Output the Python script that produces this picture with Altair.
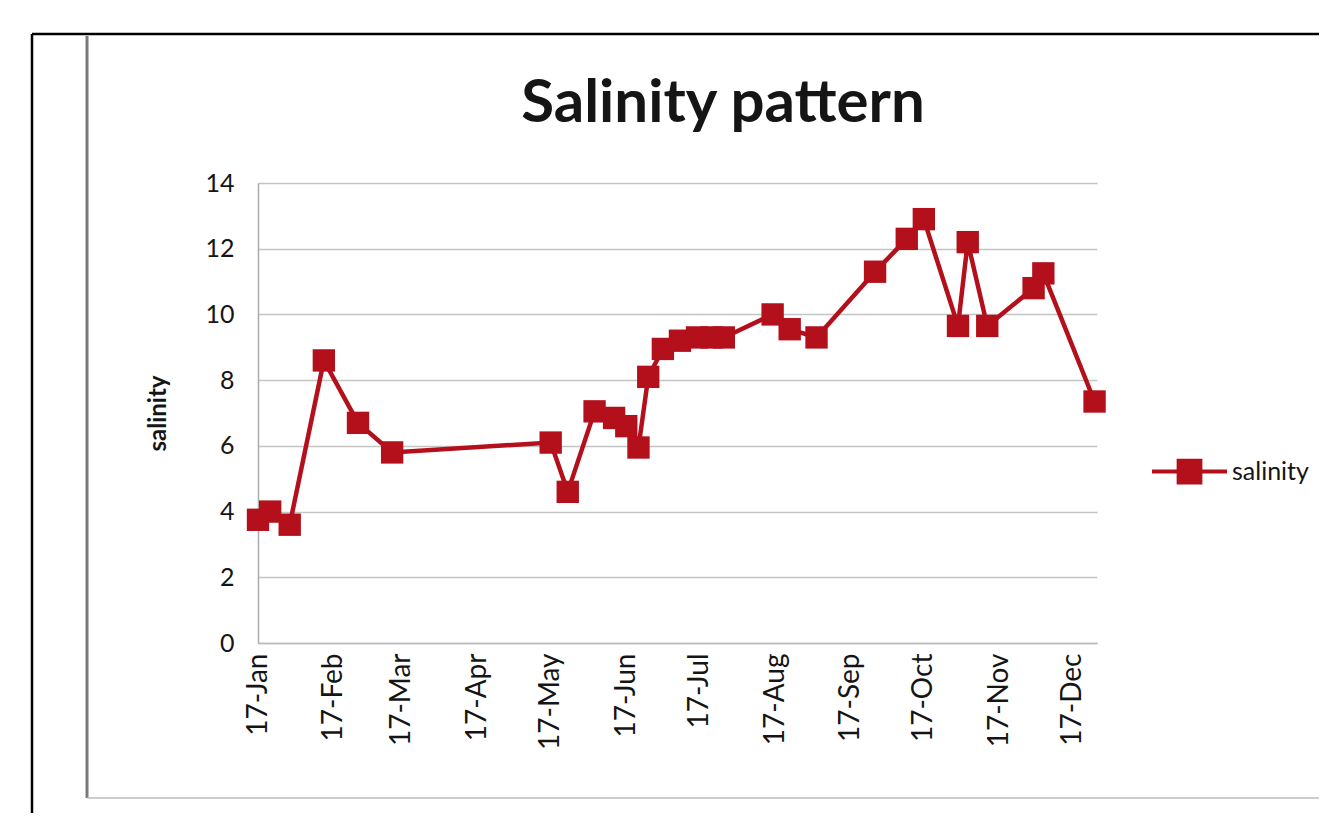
import altair as alt
import pandas as pd

dates = [
    "2017-01-17", "2017-01-22", "2017-01-30", "2017-02-13", "2017-02-27", "2017-03-13",
    "2017-05-17", "2017-05-24", "2017-06-04", "2017-06-12", "2017-06-17", "2017-06-22",
    "2017-06-26", "2017-07-02", "2017-07-09", "2017-07-16", "2017-07-22", "2017-07-27",
    "2017-08-16", "2017-08-23", "2017-09-03", "2017-09-27", "2017-10-10", "2017-10-17",
    "2017-10-31", "2017-11-04", "2017-11-12", "2017-12-01", "2017-12-05", "2017-12-26",
]
salinity = [
    3.75, 4.0, 3.6, 8.6, 6.7, 5.8,
    6.1, 4.6, 7.05, 6.85, 6.6, 5.95,
    8.1, 8.95, 9.2, 9.3, 9.3, 9.3,
    10.0, 9.55, 9.3, 11.3, 12.3, 12.9,
    9.65, 12.2, 9.65, 10.8, 11.25, 7.35,
]
tick_dates = [
    "2017-01-17", "2017-02-17", "2017-03-17", "2017-04-17", "2017-05-17", "2017-06-17",
    "2017-07-17", "2017-08-17", "2017-09-17", "2017-10-17", "2017-11-17", "2017-12-17",
]
y_ticks = [0, 2, 4, 6, 8, 10, 12, 14]
series = ["salinity"] * len(dates)
chart_title = "Salinity pattern"

df = pd.DataFrame({"date": pd.to_datetime(dates), "salinity": salinity, "series": series})

RED = "#B3101B"
FONT = "Lato"
TXT = "#151515"

legend_path = "M -1 0 L 1 0 M -0.29 -0.29 L 0.29 -0.29 L 0.29 0.29 L -0.29 0.29 Z"

x_enc = alt.X(
    "date:T",
    scale=alt.Scale(domain=["2017-01-17", "2017-12-27"]),
    axis=alt.Axis(
        values=[pd.Timestamp(d).isoformat() for d in tick_dates],
        format="%d-%b",
        labelAngle=270,
        labelFontSize=28,
        labelColor=TXT,
        labelPadding=10,
        ticks=False,
        grid=False,
        domainColor="#BBBBBB",
        domainWidth=1.5,
        title=None,
    ),
)
y_enc = alt.Y(
    "salinity:Q",
    scale=alt.Scale(domain=[0, 14], nice=False),
    axis=alt.Axis(
        values=y_ticks,
        labelFontSize=25,
        labelColor=TXT,
        labelPadding=24,
        ticks=False,
        gridColor="#C4C4C4",
        gridWidth=1.5,
        domainColor="#AAAAAA",
        domainWidth=1.5,
        title="salinity",
        titleFontSize=24,
        titleFontWeight="bold",
        titleColor=TXT,
        titlePadding=34,
    ),
)
color_enc = alt.Color(
    "series:N",
    scale=alt.Scale(domain=["salinity"], range=[RED]),
    legend=alt.Legend(
        title=None,
        orient="none",
        legendX=892,
        legendY=249,
        symbolType=legend_path,
        symbolSize=5625,
        symbolFillColor=RED,
        symbolStrokeColor=RED,
        symbolStrokeWidth=4,
        labelFontSize=25,
        labelColor=TXT,
        labelOffset=3,
    ),
)

line = alt.Chart(df).mark_line(strokeWidth=4.5, color=RED).encode(x=x_enc, y=y_enc, color=color_enc)
pts = alt.Chart(df).mark_point(shape="square", filled=True, size=500, opacity=1, color=RED).encode(
    x=x_enc, y=y_enc, color=color_enc
)

one = pd.DataFrame({"k": [0]})
title_mark = alt.Chart(one).mark_text(
    fontSize=60, fontWeight="bold", font=FONT, color=TXT, align="center", baseline="alphabetic"
).encode(x=alt.value(465), y=alt.value(-61), text=alt.value(chart_title))

# scanned page frame (decoration)
frame_top = alt.Chart(one).mark_rule(color="#000000", strokeWidth=2.5).encode(
    x=alt.value(-226), x2=alt.value(1070), y=alt.value(-149)
)
frame_left = alt.Chart(one).mark_rule(color="#000000", strokeWidth=2.5).encode(
    x=alt.value(-226), y=alt.value(-149), y2=alt.value(640)
)
panel_left = alt.Chart(one).mark_rule(color="#7A7A7A", strokeWidth=3).encode(
    x=alt.value(-171), y=alt.value(-147), y2=alt.value(615)
)
panel_bottom = alt.Chart(one).mark_rule(color="#BDBDBD", strokeWidth=1.5).encode(
    x=alt.value(-171), x2=alt.value(1070), y=alt.value(615)
)

chart = (
    alt.layer(frame_top, frame_left, panel_left, panel_bottom, title_mark, line, pts)
    .properties(
        width=839,
        height=460,
        autosize=alt.AutoSizeParams(type="none"),
        padding={"left": 250, "top": 175, "right": 222, "bottom": 170},
    )
    .configure(font=FONT)
    .configure_view(stroke=None)
)

chart.save("out.html", embed_options={"renderer": "svg", "actions": False})
